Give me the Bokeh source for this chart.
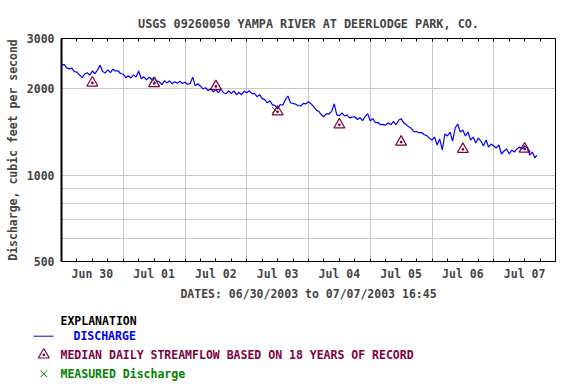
import pandas as pd
from bokeh.plotting import figure
from bokeh.models import Range1d, FixedTicker, LinearAxis, PrintfTickFormatter
from bokeh.layouts import column
from bokeh.embed import file_html
from bokeh.resources import INLINE
from bokeh.core.properties import value

# ---------------- data ----------------
title_text = "USGS 09260050 YAMPA RIVER AT DEERLODGE PARK, CO."
x_title = "DATES: 06/30/2003 to 07/07/2003 16:45"
y_title = "Discharge, cubic feet per second"
day_labels = ["Jun 30", "Jul 01", "Jul 02", "Jul 03", "Jul 04", "Jul 05", "Jul 06", "Jul 07"]
y_tick_values = [500, 1000, 2000, 3000]
y_grid_values = [600, 700, 800, 900, 1000, 2000]

# hourly discharge (cfs), Jun 30 00:00 .. Jul 07 16:00, then 16:45
q_jun30 = [2418, 2437, 2370, 2350, 2365, 2300, 2290, 2240, 2190, 2255, 2280, 2235,
           2310, 2260, 2330, 2420, 2300, 2275, 2330, 2280, 2345, 2310, 2315, 2260]
q_jul01 = [2255, 2190, 2225, 2185, 2240, 2200, 2310, 2170, 2205, 2150, 2200, 2155,
           2185, 2135, 2120, 2070, 2135, 2100, 2135, 2085, 2120, 2095, 2130, 2090]
q_jul02 = [2110, 2075, 2090, 2200, 2050, 2085, 2045, 2000, 2020, 1975, 2005, 1955,
           1990, 1940, 2000, 1940, 1925, 1970, 1925, 1970, 1910, 1945, 1910, 1965]
q_jul03 = [1940, 1970, 1925, 1930, 1880, 1910, 1850, 1835, 1790, 1820, 1760, 1750,
           1705, 1765, 1755, 1835, 1890, 1790, 1780, 1770, 1750, 1745, 1780, 1775]
q_jul04 = [1805, 1775, 1735, 1690, 1670, 1625, 1600, 1640, 1635, 1670, 1775, 1625,
           1615, 1650, 1610, 1620, 1585, 1595, 1600, 1565, 1590, 1550, 1600, 1640]
q_jul05 = [1550, 1575, 1525, 1530, 1500, 1505, 1495, 1525, 1500, 1540, 1500, 1555,
           1575, 1525, 1500, 1475, 1455, 1420, 1420, 1405, 1410, 1385, 1375, 1345]
q_jul06 = [1327, 1359, 1275, 1337, 1225, 1392, 1370, 1415, 1316, 1461, 1508, 1415,
           1437, 1370, 1415, 1327, 1359, 1295, 1348, 1316, 1265, 1327, 1255, 1285]
q_jul07 = [1265, 1245, 1275, 1186, 1215, 1235, 1186, 1225, 1205, 1235, 1255, 1235,
           1265, 1245, 1176, 1205, 1149, 1176]

median_dates = ["2003-06-30 12:00", "2003-07-01 12:00", "2003-07-02 12:00", "2003-07-03 12:00",
                "2003-07-04 12:00", "2003-07-05 12:00", "2003-07-06 12:00", "2003-07-07 12:00"]
median_cfs = [2100, 2090, 2040, 1665, 1500, 1306, 1232, 1235]

measured_dates = ["2003-07-01 11:30", "2003-07-03 11:00"]
measured_cfs = [2150, 1690]

# ---------------- derived ----------------
START = pd.Timestamp("2003-06-30 00:00")
discharge = q_jun30 + q_jul01 + q_jul02 + q_jul03 + q_jul04 + q_jul05 + q_jul06 + q_jul07
times = list(pd.date_range("2003-06-30 00:00", periods=len(discharge) - 1, freq="h")) + [pd.Timestamp("2003-07-07 16:45")]


def to_days(ts):
    return [(pd.Timestamp(t) - START) / pd.Timedelta(days=1) for t in ts]


x_q = to_days(times)
x_med = to_days(median_dates)
x_meas = to_days(measured_dates)

FONT = "DejaVu Sans Mono"
FS = "11.5px"
BLUE = "#0000ff"
MAROON = "#800040"
GREEN = "#008000"

label_ticks = [i + 0.5 for i in range(8)]
minor = [i / 4 for i in range(33)]

W = 568
p = figure(width=W, height=305, y_axis_type="log",
           x_range=Range1d(0, 8), y_range=Range1d(500, 3000),
           output_backend="svg", toolbar_location=None,
           min_border_left=61, min_border_right=13, min_border_top=38, min_border_bottom=44,
           title=title_text)
p.title.text_font = FONT
p.title.text_font_size = "11.8px"
p.title.text_font_style = "bold"
p.title.align = "center"
p.title.standoff = 16
p.outline_line_color = "black"
p.outline_line_width = 1
p.background_fill_color = "white"
p.border_fill_color = "white"

# x axis
xa = p.xaxis[0]
xa.ticker = FixedTicker(ticks=label_ticks, minor_ticks=minor)
xa.major_label_overrides = {t: lab for t, lab in zip(label_ticks, day_labels)}
xa.major_tick_in = 3
xa.major_tick_out = 0
xa.minor_tick_in = 3
xa.minor_tick_out = 0
xa.major_label_text_font = FONT
xa.major_label_text_font_size = FS
xa.major_label_text_font_style = "bold"
xa.major_label_standoff = 5
xa.axis_label = x_title
xa.axis_label_text_font = FONT
xa.axis_label_text_font_size = FS
xa.axis_label_text_font_style = "bold"
xa.axis_label_standoff = 3
xa.axis_line_color = "black"

top = LinearAxis(ticker=FixedTicker(ticks=[], minor_ticks=minor),
                 axis_line_color=None,
                 major_tick_in=3, major_tick_out=0, minor_tick_in=3, minor_tick_out=0,
                 major_label_standoff=0)
p.add_layout(top, "above")

# y axis
ya = p.yaxis[0]
ya.ticker = FixedTicker(ticks=y_tick_values, minor_ticks=[])
ya.formatter = PrintfTickFormatter(format="%d")
ya.major_tick_in = 0
ya.major_tick_out = 0
ya.minor_tick_in = 0
ya.minor_tick_out = 0
ya.major_label_text_font = FONT
ya.major_label_text_font_size = FS
ya.major_label_text_font_style = "bold"
ya.major_label_standoff = 7
ya.axis_label = y_title
ya.axis_label_text_font = FONT
ya.axis_label_text_font_size = FS
ya.axis_label_text_font_style = "bold"
ya.axis_label_standoff = 4
ya.axis_line_width = 2
ya.axis_line_color = "black"

# grids
p.xgrid.ticker = FixedTicker(ticks=[1, 2, 3, 4, 5, 6, 7])
p.ygrid.ticker = FixedTicker(ticks=y_grid_values)
p.xgrid.grid_line_color = "#c8c8c8"
p.ygrid.grid_line_color = "#c8c8c8"
p.xgrid.grid_line_width = 1
p.ygrid.grid_line_width = 1

p.line(x_q, discharge, line_color=BLUE, line_width=1.2)
p.scatter(x_meas, measured_cfs, marker="x", size=8, line_color=GREEN, line_width=1)
p.scatter(x_med, median_cfs, marker="triangle_dot", size=11, line_color=MAROON,
          fill_alpha=0, line_width=1.2)

# ---------------- explanation (legend) ----------------
LH = 79
lf = figure(width=W, height=LH, x_range=Range1d(0, W), y_range=Range1d(LH, 0),
            output_backend="svg", toolbar_location=None, min_border=0,
            x_axis_location=None, y_axis_location=None)
lf.frame_align = False
lf.outline_line_color = None
lf.grid.visible = False

lf.text([60], [15], text=["EXPLANATION"], text_font=value(FONT), text_font_size=FS,
        text_font_style="bold", text_color="black", text_baseline="middle")
lf.line([33, 53], [30.7, 30.7], line_color=BLUE, line_width=1)
lf.text([73], [30.7], text=["DISCHARGE"], text_font=value(FONT), text_font_size=FS,
        text_font_style="bold", text_color=BLUE, text_baseline="middle")
lf.scatter([43.3], [49.3], marker="triangle_dot", size=11, line_color=MAROON, fill_alpha=0, line_width=1.2)
lf.text([60], [49.3], text=["MEDIAN DAILY STREAMFLOW BASED ON 18 YEARS OF RECORD"], text_font=value(FONT),
        text_font_size=FS, text_font_style="bold", text_color=MAROON, text_baseline="middle")
lf.scatter([43.3], [68.3], marker="x", size=9, line_color=GREEN, line_width=1)
lf.text([60], [68.3], text=["MEASURED Discharge"], text_font=value(FONT), text_font_size=FS,
        text_font_style="bold", text_color=GREEN, text_baseline="middle")

p.frame_align = False
layout = column(p, lf, spacing=0)
open("out.html", "w").write(file_html(layout, INLINE))
